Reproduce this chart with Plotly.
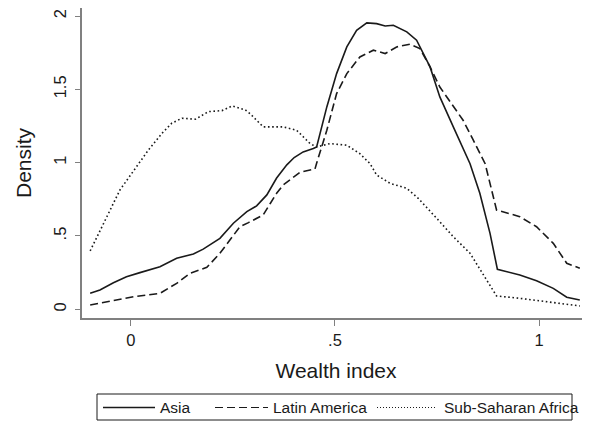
import plotly.graph_objects as go

# ---- data ----
asia_x = [-0.10, -0.076, -0.043, -0.011, 0.022, 0.071, 0.112, 0.153, 0.177, 0.218,
          0.251, 0.284, 0.308, 0.333, 0.357, 0.382, 0.40, 0.422, 0.447, 0.455, 0.48, 0.504,
          0.529, 0.553, 0.578, 0.602, 0.623, 0.643, 0.676, 0.70, 0.733, 0.757,
          0.79, 0.831, 0.855, 0.88, 0.898, 0.953, 0.994, 1.035, 1.068, 1.10]
asia_y = [0.109, 0.132, 0.181, 0.222, 0.25, 0.29, 0.348, 0.377, 0.41, 0.484,
          0.587, 0.666, 0.705, 0.78, 0.895, 0.985, 1.035, 1.073, 1.096, 1.107, 1.38, 1.607,
          1.789, 1.903, 1.953, 1.948, 1.932, 1.937, 1.892, 1.835, 1.653, 1.448,
          1.244, 0.993, 0.791, 0.518, 0.273, 0.234, 0.195, 0.143, 0.082, 0.063]

latin_x = [-0.10, -0.043, 0.006, 0.071, 0.112, 0.145, 0.186, 0.218, 0.267, 0.288,
           0.324, 0.341, 0.357, 0.373, 0.414, 0.451, 0.455, 0.48, 0.504, 0.529,
           0.561, 0.594, 0.623, 0.651, 0.684, 0.708, 0.733, 0.757, 0.782, 0.814,
           0.839, 0.868, 0.896, 0.953, 0.994, 1.035, 1.068, 1.10]
latin_y = [0.029, 0.057, 0.086, 0.109, 0.177, 0.246, 0.286, 0.382, 0.563, 0.591,
           0.643, 0.72, 0.791, 0.848, 0.934, 0.957, 0.996, 1.221, 1.471, 1.607,
           1.721, 1.767, 1.744, 1.789, 1.808, 1.778, 1.653, 1.516, 1.414, 1.289,
           1.153, 0.993, 0.677, 0.632, 0.563, 0.45, 0.314, 0.28]

africa_x = [-0.10, -0.06, -0.027, 0.011, 0.043, 0.076, 0.10, 0.125, 0.158, 0.19,
            0.223, 0.248, 0.28, 0.292, 0.324, 0.373, 0.406, 0.439, 0.455, 0.488,
            0.529, 0.561, 0.586, 0.602, 0.635, 0.676, 0.704, 0.749, 0.79, 0.831,
            0.872, 0.896, 0.953, 1.035, 1.10]
africa_y = [0.398, 0.632, 0.814, 0.962, 1.087, 1.2, 1.269, 1.303, 1.296, 1.348,
            1.355, 1.387, 1.36, 1.334, 1.244, 1.244, 1.221, 1.13, 1.107, 1.13,
            1.119, 1.061, 0.993, 0.916, 0.859, 0.825, 0.757, 0.621, 0.495, 0.382,
            0.2, 0.091, 0.075, 0.045, 0.023]

x_tickvals = [0, 0.5, 1]
x_ticktext = ["0", ".5", "1"]
y_tickvals = [0, 0.5, 1, 1.5, 2]
y_ticktext = ["0", ".5", "1", "1.5", "2"]

series_names = ["Asia", "Latin America", "Sub-Saharan Africa"]

# ---- styling ----
# the page body has an 8px default margin, so the figure is 8px smaller
OFF = 8
W, H = 590 - OFF, 423 - OFF
ML, MR, MT, MB = 82 - OFF, 0, 0, 105
FONT = "Liberation Sans, Arial, Helvetica, sans-serif"
INK = "#1a1a1a"
AXIS = "#808080"
dashes = ["solid", "8px,4px", "1.6px,2.6px"]

fig = go.Figure()
for xs, ys, name, d in zip([asia_x, latin_x, africa_x], [asia_y, latin_y, africa_y],
                            series_names, dashes):
    fig.add_trace(go.Scatter(x=xs, y=ys, mode="lines", name=name, showlegend=False,
                             line=dict(color=INK, width=1.6, dash=d)))

pw = W - ML - MR
ph = H - MT - MB          # plot spans page y 8 .. 318


def px2paper_x(px):
    return (px - OFF - ML) / pw


def px2paper_y(py):
    return (H - MB - (py - OFF)) / ph


# manual legend (Stata style box under the plot)
shapes = [dict(type="rect", xref="paper", yref="paper",
               x0=px2paper_x(97), x1=px2paper_x(572),
               y0=px2paper_y(420), y1=px2paper_y(394),
               line=dict(color=INK, width=1), fillcolor="rgba(0,0,0,0)")]
annotations = []
ly = px2paper_y(407.5)
samples = [(103, 155, 158), (215, 268, 271), (377, 436, 442)]
for (s0, s1, tx), name, d in zip(samples, series_names, dashes):
    shapes.append(dict(type="line", xref="paper", yref="paper",
                       x0=px2paper_x(s0), x1=px2paper_x(s1), y0=ly, y1=ly,
                       line=dict(color=INK, width=1.4 if d == "solid" else 1.2,
                                 dash=d if d != "1.6px,2.6px" else "1px,2px")))
    annotations.append(dict(text=name, xref="paper", yref="paper",
                            x=px2paper_x(tx), y=ly, xanchor="left", yanchor="middle",
                            showarrow=False, font=dict(family=FONT, size=15.5, color=INK)))

# y range: page y 309.3 -> 0, 146.65 px per unit; plot spans page y 8..318
y_lo = -(318 - 309.3) / 146.65
y_hi = (309.3 - 8) / 146.65

fig.update_layout(
    width=W, height=H,
    margin=dict(l=ML, r=MR, t=MT, b=MB),
    paper_bgcolor="white", plot_bgcolor="white",
    font=dict(family=FONT, color=INK),
    shapes=shapes, annotations=annotations,
    xaxis=dict(range=[-0.120, 1.125], tickvals=x_tickvals, ticktext=x_ticktext,
               showgrid=False, zeroline=False, showline=True, linecolor=AXIS, linewidth=1.5,
               ticks="outside", ticklen=6, tickwidth=1.3, tickcolor=AXIS,
               tickfont=dict(size=16.5, color=INK, family=FONT),
               title=dict(text="Wealth index", font=dict(size=21, color=INK, family=FONT),
                          standoff=16)),
    yaxis=dict(range=[y_lo, y_hi], tickvals=y_tickvals, ticktext=y_ticktext,
               tickangle=-90, ticklabelstandoff=3,
               showgrid=False, zeroline=False, showline=True, linecolor=AXIS, linewidth=1.5,
               ticks="outside", ticklen=5, tickwidth=1.3, tickcolor=AXIS,
               tickfont=dict(size=16.5, color=INK, family=FONT),
               title=dict(text="Density", font=dict(size=21, color=INK, family=FONT),
                          standoff=13)),
)

fig.write_html("out.html")
